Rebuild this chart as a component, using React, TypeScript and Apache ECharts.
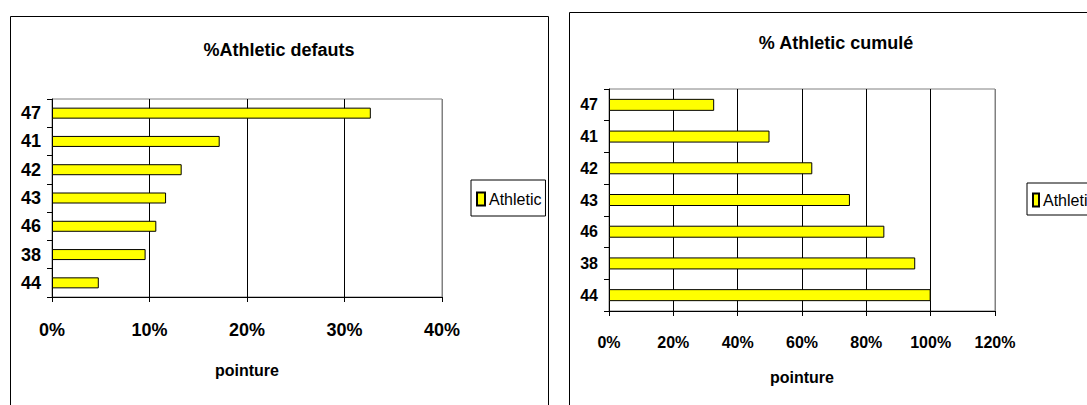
import React, { useEffect, useRef } from "react";
import * as echarts from "echarts";

// Shoe sizes, ordered from the largest share to the smallest
const sizes = ["47", "41", "42", "43", "46", "38", "44"];
// Share of defects per size (%)
const shareDefects = [32.7, 17.2, 13.3, 11.7, 10.7, 9.6, 4.8];
// Cumulative share of defects (%)
const shareCumulative = [32.7, 49.9, 63.2, 74.9, 85.6, 95.2, 100];
// Tick values of the two value axes (%)
const defectTicks = [0, 10, 20, 30, 40];
const cumulativeTicks = [0, 20, 40, 60, 80, 100, 120];

const seriesName = "Athletic";
const titleDefects = "%Athletic defauts";
const titleCumulative = "% Athletic cumulé";
const axisName = "pointure";

const FONT = '"Liberation Sans", Arial, sans-serif';

function valueAxis(
  ticks: number[],
  gridIndex: number,
  labelSize: number,
  labelMargin: number,
  nameSize: number,
  nameGap: number
) {
  const interval = ticks[1] - ticks[0];
  // the last gridline coincides with the grey plot-area border
  const gridColors = ticks.map((_, i) => (i === ticks.length - 1 ? "#808080" : "#000"));
  return {
    type: "value",
    gridIndex,
    min: ticks[0],
    max: ticks[ticks.length - 1],
    interval,
    name: axisName,
    nameLocation: "middle",
    nameGap,
    nameTextStyle: { fontFamily: FONT, fontWeight: "bold", fontSize: nameSize, color: "#000" },
    axisLine: { show: true, lineStyle: { color: "#000", width: 1 } },
    axisTick: { show: true, length: 5, lineStyle: { color: "#000" } },
    axisLabel: {
      formatter: "{value}%",
      fontFamily: FONT,
      fontWeight: "bold",
      fontSize: labelSize,
      color: "#000",
      margin: labelMargin,
    },
    splitLine: { show: true, lineStyle: { color: gridColors, width: 1 } },
  };
}

function categoryAxis(gridIndex: number, labelSize: number) {
  return {
    type: "category",
    gridIndex,
    data: sizes,
    inverse: true,
    axisLine: { show: true, lineStyle: { color: "#000", width: 1 } },
    axisTick: { show: true, length: 5, lineStyle: { color: "#000" } },
    axisLabel: {
      fontFamily: FONT,
      fontWeight: "bold",
      fontSize: labelSize,
      color: "#000",
      margin: 11,
    },
    splitLine: { show: false },
  };
}

function legend(left: number, top: number, padding: number[], markerWidth: number, textShift: number) {
  return {
    left,
    top,
    data: [seriesName],
    icon: "rect",
    itemWidth: markerWidth,
    itemHeight: 13,
    itemGap: 4,
    padding,
    borderColor: "#000",
    borderWidth: 1,
    backgroundColor: "#fff",
    textStyle: { fontFamily: FONT, fontSize: 16, color: "#000", padding: [0, 0, 0, textShift] },
  };
}

function titleText(text: string, x: number, y: number) {
  return {
    type: "text",
    x,
    y,
    style: {
      text,
      fontFamily: FONT,
      fontWeight: "bold",
      fontSize: 18,
      fill: "#000",
      align: "center",
      verticalAlign: "middle",
    },
  };
}

const barStyle = { color: "#FFFF00", borderColor: "#000", borderWidth: 1 };

export default function App() {
  const ref = useRef<HTMLDivElement>(null);

  useEffect(() => {
    if (!ref.current) return;
    const chart = echarts.init(ref.current, undefined, { renderer: "svg" });
    chart.setOption({
      animation: false,
      backgroundColor: "#fff",
      graphic: [
        {
          type: "rect",
          shape: { x: 10.5, y: 16.5, width: 538, height: 420 },
          style: { fill: "none", stroke: "#000", lineWidth: 1 },
          z: -10,
        },
        {
          type: "rect",
          shape: { x: 569.5, y: 12.5, width: 600, height: 420 },
          style: { fill: "none", stroke: "#000", lineWidth: 1 },
          z: -10,
        },
        titleText(titleDefects, 279, 50),
        titleText(titleCumulative, 836, 43),
      ],
      legend: [
        legend(471, 180, [11, 4, 9, 5], 8, -1),
        legend(1027, 183, [9, 4, 7, 5], 6, -1),
      ],
      grid: [
        { left: 52, top: 99, width: 390, height: 198, show: true, borderColor: "#808080", borderWidth: 1 },
        { left: 609, top: 89, width: 386, height: 222, show: true, borderColor: "#808080", borderWidth: 1 },
      ],
      xAxis: [
        valueAxis(defectTicks, 0, 18, 24, 16, 65),
        valueAxis(cumulativeTicks, 1, 16, 23, 16, 58),
      ],
      yAxis: [categoryAxis(0, 18), categoryAxis(1, 16)],
      series: [
        {
          type: "bar",
          name: seriesName,
          xAxisIndex: 0,
          yAxisIndex: 0,
          data: shareDefects,
          barWidth: 11,
          itemStyle: barStyle,
        },
        {
          type: "bar",
          name: seriesName,
          xAxisIndex: 1,
          yAxisIndex: 1,
          data: shareCumulative,
          barWidth: 12,
          itemStyle: barStyle,
        },
      ],
    });
    return () => chart.dispose();
  }, []);

  return (
    <div
      ref={ref}
      style={{ position: "absolute", left: 0, top: 0, width: 1087, height: 405 }}
    />
  );
}
